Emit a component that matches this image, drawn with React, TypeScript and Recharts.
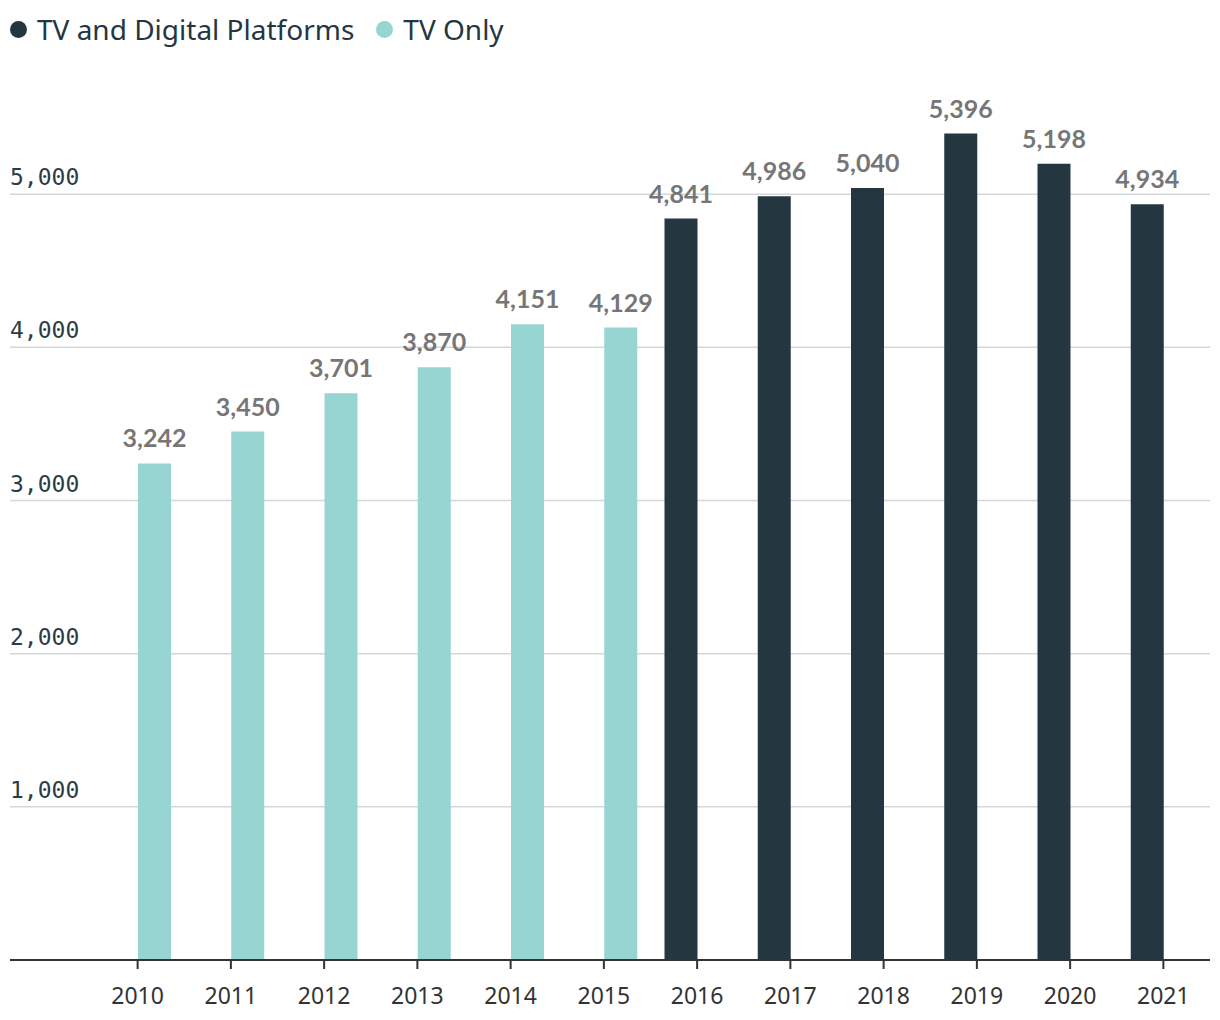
import { Bar, BarChart, CartesianGrid, LabelList, Legend, XAxis, YAxis } from 'recharts'

const years = ['2010', '2011', '2012', '2013', '2014', '2015', '2016', '2017', '2018', '2019', '2020', '2021']
const tvAndDigital = [null, null, null, null, null, null, 4841, 4986, 5040, 5396, 5198, 4934]
const tvOnly = [3242, 3450, 3701, 3870, 4151, 4129, null, null, null, null, null, null]
const yTicks = [1000, 2000, 3000, 4000, 5000]

const seriesColors = {
  tvAndDigital: '#243740',
  tvOnly: '#97d5d2',
}

const chartData = years.map((year, i) => ({
  year,
  tvAndDigital: tvAndDigital[i],
  tvOnly: tvOnly[i],
}))

const formatValue = (v: unknown) =>
  v == null || v === '' ? '' : Number(v).toLocaleString('en-US')

function YTick(props: any) {
  const { y, payload } = props
  return (
    <text
      x={10}
      y={y - 9}
      textAnchor="start"
      fill="#2d3b45"
      fontSize={23}
      fontFamily="'DejaVu Sans Mono', monospace"
    >
      {formatValue(payload.value)}
    </text>
  )
}

function LegendContent() {
  const items = [
    { label: 'TV and Digital Platforms', color: seriesColors.tvAndDigital },
    { label: 'TV Only', color: seriesColors.tvOnly },
  ]
  return (
    <div
      style={{
        display: 'flex',
        alignItems: 'center',
        height: 40,
        fontFamily: "'Noto Sans', sans-serif",
        fontSize: 28,
        color: '#243740',
      }}
    >
      {items.map((item) => (
        <div key={item.label} style={{ display: 'flex', alignItems: 'center', marginRight: 22 }}>
          <span
            style={{
              display: 'inline-block',
              width: 17,
              height: 17,
              borderRadius: '50%',
              background: item.color,
              marginRight: 10,
            }}
          />
          <span>{item.label}</span>
        </div>
      ))}
    </div>
  )
}

export default function App() {
  return (
    <div style={{ margin: -8 }}>
      <BarChart
        width={1220}
        height={1020}
        data={chartData}
        margin={{ top: 1, right: 10, left: 10, bottom: 0 }}
        barGap={0}
        barSize={33}
      >
        <CartesianGrid vertical={false} horizontalValues={yTicks} stroke="#d3d7db" strokeWidth={1.5} />
        <XAxis
          dataKey="year"
          height={60}
          padding={{ left: 81, right: 0 }}
          axisLine={{ stroke: '#333', strokeWidth: 2 }}
          tickLine={{ stroke: '#333', strokeWidth: 2 }}
          tickSize={9}
          tickMargin={19}
          tick={{ fill: '#333', fontSize: 23, fontFamily: "'Noto Sans', sans-serif" }}
          interval={0}
        />
        <YAxis
          mirror
          width={80}
          domain={[0, 6000]}
          ticks={yTicks}
          interval={0}
          axisLine={false}
          tickLine={false}
          tick={<YTick />}
        />
        <Legend
          verticalAlign="top"
          align="left"
          layout="horizontal"
          wrapperStyle={{ top: 9, left: 10 }}
          content={<LegendContent />}
        />
        <Bar dataKey="tvAndDigital" name="TV and Digital Platforms" fill={seriesColors.tvAndDigital} isAnimationActive={false}>
          <LabelList
            dataKey="tvAndDigital"
            position="top"
            offset={16}
            formatter={formatValue}
            fill="#767676"
            fontSize={25}
            fontWeight="bold"
            fontFamily="Lato, sans-serif"
          />
        </Bar>
        <Bar dataKey="tvOnly" name="TV Only" fill={seriesColors.tvOnly} isAnimationActive={false}>
          <LabelList
            dataKey="tvOnly"
            position="top"
            offset={16}
            formatter={formatValue}
            fill="#767676"
            fontSize={25}
            fontWeight="bold"
            fontFamily="Lato, sans-serif"
          />
        </Bar>
      </BarChart>
    </div>
  )
}
